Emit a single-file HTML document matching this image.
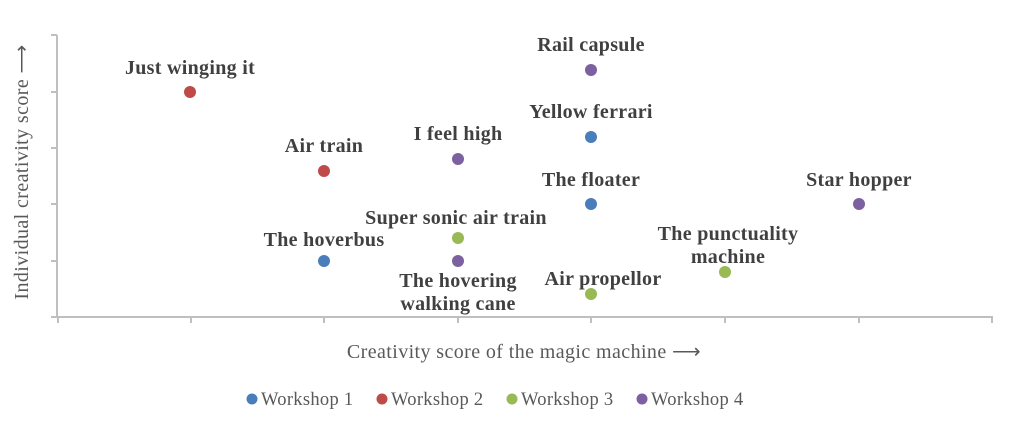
<!DOCTYPE html>
<html><head><style>body{margin:0;background:#fff}svg{display:block}</style></head>
<body>
<svg width="1022" height="424" xmlns="http://www.w3.org/2000/svg" font-family="Liberation Serif, serif">
<g stroke="#bfbfbf" stroke-width="2" fill="none">
<line x1="57" y1="35" x2="57" y2="318"/>
<line x1="56" y1="317" x2="993" y2="317"/>
<path d="M51 35H57M51 92H57M51 148H57M51 204H57M51 261H57M51 317H57"/>
<path d="M58 317V323M191 317V323M324 317V323M458 317V323M591 317V323M725 317V323M859 317V323M992 317V323"/>
</g>
<text transform="translate(28,172) rotate(-90)" text-anchor="middle" font-size="20" letter-spacing="0.4" fill="#595959">Individual creativity score ⟶</text>
<text x="524" y="358" text-anchor="middle" font-size="20" letter-spacing="0.4" fill="#595959">Creativity score of the magic machine ⟶</text>
<g font-weight="bold" font-size="20" letter-spacing="0.3" fill="#404040" text-anchor="middle">
<text x="190" y="74">Just winging it</text>
<text x="324" y="152">Air train</text>
<text x="458" y="140">I feel high</text>
<text x="591" y="51">Rail capsule</text>
<text x="591" y="118">Yellow ferrari</text>
<text x="591" y="186">The floater</text>
<text x="859" y="186">Star hopper</text>
<text x="456" y="224">Super sonic air train</text>
<text x="324" y="246">The hoverbus</text>
<text x="458" y="287">The hovering</text>
<text x="458" y="310">walking cane</text>
<text x="603" y="285">Air propellor</text>
<text x="728" y="240">The punctuality</text>
<text x="728" y="263">machine</text>
</g>
<g>
<circle cx="190" cy="92" r="6" fill="#be4b48"/>
<circle cx="324" cy="171" r="6" fill="#be4b48"/>
<circle cx="458" cy="159" r="6" fill="#7d60a0"/>
<circle cx="591" cy="70" r="6" fill="#7d60a0"/>
<circle cx="591" cy="137" r="6" fill="#4a7ebb"/>
<circle cx="591" cy="204" r="6" fill="#4a7ebb"/>
<circle cx="859" cy="204" r="6" fill="#7d60a0"/>
<circle cx="458" cy="238" r="6" fill="#98b954"/>
<circle cx="324" cy="261" r="6" fill="#4a7ebb"/>
<circle cx="458" cy="261" r="6" fill="#7d60a0"/>
<circle cx="591" cy="294" r="6" fill="#98b954"/>
<circle cx="725" cy="272" r="6" fill="#98b954"/>
</g>
<g font-size="18.5" letter-spacing="0.3" fill="#595959">
<circle cx="252" cy="399" r="5.5" fill="#4a7ebb"/><text x="261" y="405">Workshop 1</text>
<circle cx="382" cy="399" r="5.5" fill="#be4b48"/><text x="391" y="405">Workshop 2</text>
<circle cx="512" cy="399" r="5.5" fill="#98b954"/><text x="521" y="405">Workshop 3</text>
<circle cx="642" cy="399" r="5.5" fill="#7d60a0"/><text x="651" y="405">Workshop 4</text>
</g>
</svg>
</body></html>
